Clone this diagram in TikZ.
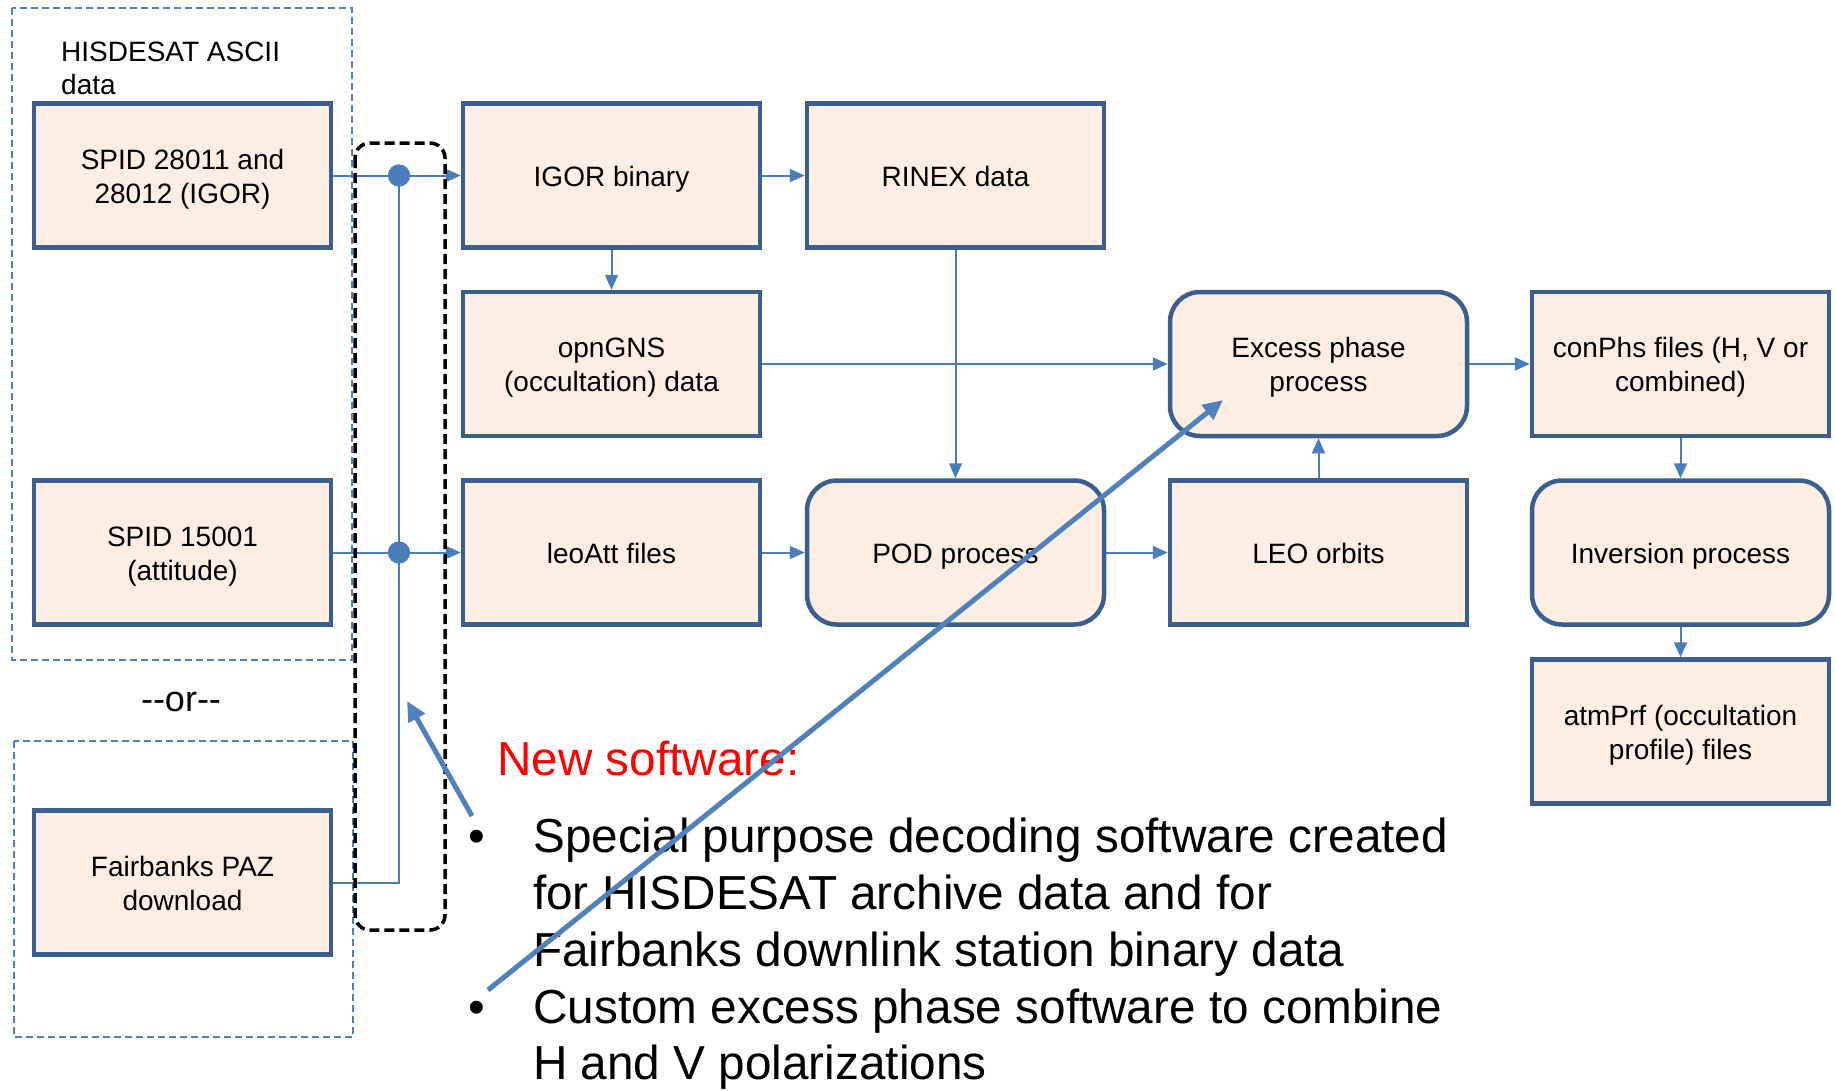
\documentclass[tikz,border=0pt]{standalone}
\usepackage{fontspec}
\setmainfont{Liberation Sans}
\usetikzlibrary{arrows.meta}
\definecolor{boxfill}{HTML}{FCEEE3}
\definecolor{boxline}{HTML}{3A5F8E}
\definecolor{connc}{HTML}{4A7EBB}
\definecolor{dashc}{HTML}{4F81BD}
\newcommand\bxfont{\fontsize{28}{34}\selectfont}
\newcommand\bigtxt{\fontsize{47.7}{56}\selectfont}
\newcommand\bxt[1]{\vbox{\vskip8pt\hbox{\begin{tabular}{@{}c@{}}#1\end{tabular}}}}
\begin{document}
\begin{tikzpicture}[x=1pt,y=-1pt,
 box/.style={draw=boxline,line width=4.5pt,fill=boxfill,minimum width=297pt,minimum height=144pt,font=\bxfont,inner sep=0pt},
 proc/.style={box,rounded corners=30pt},
 conn/.style={draw=connc,line width=2pt,-{Triangle[length=15pt,width=13pt]}},
 wire/.style={draw=connc,line width=2pt},
 grp/.style={draw=dashc,line width=2pt,dash pattern=on 7pt off 4pt},
 bigline/.style={font=\bigtxt,anchor=base west,inner sep=0pt},
 callout/.style={draw=dashc,line width=5pt,-{Triangle[length=20pt,width=18pt]}},
 jdot/.style={circle,fill=connc,minimum size=22pt,inner sep=0pt},
 lbl/.style={font=\bxfont,anchor=base west,inner sep=0pt}
]
\useasboundingbox (0,0) rectangle (1835,1090);
\fill[white] (0,0) rectangle (1835,1090);

% group frames
\draw[grp] (12,8) rectangle (352,660);
\draw[grp] (14,741) rectangle (353,1037);
\node[lbl] (hisA) at (61,61) {HISDESAT ASCII};
\node[lbl] (hisB) at (61,94) {data};
\node[font=\fontsize{36}{42}\selectfont,inner sep=0pt] (orr) at (181,702) {-{}-or-{}-};

% boxes
\node[box] (spidA) at (182.5,175.5) {\bxt{SPID 28011 and\\28012 (IGOR)}};
\node[box] (spidB) at (182.5,552.5) {\bxt{SPID 15001\\(attitude)}};
\node[box] (fair) at (182.5,882.5) {\bxt{Fairbanks PAZ\\download}};
\node[box] (igor) at (611.5,175.5) {\bxt{IGOR binary}};
\node[box] (rinex) at (955.5,175.5) {\bxt{RINEX data}};
\node[box] (opn) at (611.5,364) {\bxt{opnGNS\\(occultation) data}};
\node[box] (leoatt) at (611.5,552.5) {\bxt{leoAtt files}};
\node[proc] (pod) at (955.5,552.5) {\bxt{POD process}};
\node[proc] (exc) at (1318.5,364) {\bxt{Excess phase\\process}};
\node[box] (leo) at (1318.5,552.5) {\bxt{LEO orbits}};
\node[box] (conphs) at (1680.5,364) {\bxt{conPhs files (H, V or\\combined)}};
\node[proc] (inv) at (1680.5,552.5) {\bxt{Inversion process}};
\node[box] (atm) at (1680.5,731.5) {\bxt{atmPrf (occultation\\profile) files}};

% junctions
\node[jdot] (j1) at (399,175.5) {};
\node[jdot] (j2) at (399,552.5) {};
\coordinate (j3) at (399,882.5);

\draw[wire] (spidA.east) -- (j1.center);
\draw[conn] (j1.center) -- (igor.west);
\draw[wire] (spidB.east) -- (j2.center);
\draw[conn] (j2.center) -- (leoatt.west);
\draw[wire] (j1.center) -- (j3) -- (fair.east);
\node[jdot] at (j1) {};
\node[jdot] at (j2) {};

\draw[conn] (igor.east) -- (rinex.west);
\draw[conn] (igor.south) -- (opn.north);
\draw[conn] (rinex.south) -- (pod.north);
\draw[conn] (opn.east) -- (exc.west);
\draw[conn] (leoatt.east) -- (pod.west);
\draw[conn] (pod.east) -- (leo.west);
\draw[conn] (leo.north) -- (exc.south);
\draw[conn] (exc.east) -- (conphs.west);
\draw[conn] (conphs.south) -- (inv.north);
\draw[conn] (inv.south) -- (atm.north);

% black dashed frame
\draw[black,line width=3.5pt,dash pattern=on 10pt off 5pt,rounded corners=15pt] (355,143) rectangle (445,930);

% text
\node[bigline,text=red] (newsw) at (497,775) {New software:};
\node[bigline] (bul1) at (468,852) {•};
\node[bigline] (b1a) at (533,852) {Special purpose decoding software created};
\node[bigline] (b1b) at (533,909) {for HISDESAT archive data and for};
\node[bigline] (b1c) at (533,966) {Fairbanks downlink station binary data};
\node[bigline] (bul2) at (468,1023) {•};
\node[bigline] (b2a) at (533,1023) {Custom excess phase software to combine};
\node[bigline] (b2b) at (533,1079) {H and V polarizations};

% callouts
\coordinate (c1s) at (472,816);
\coordinate (c1e) at (407,701);
\coordinate (c2s) at (488,990);
\coordinate (c2e) at (1223,400);
\draw[callout] (c1s) -- (c1e);
\draw[callout] (c2s) -- (c2e);
\end{tikzpicture}
\end{document}
